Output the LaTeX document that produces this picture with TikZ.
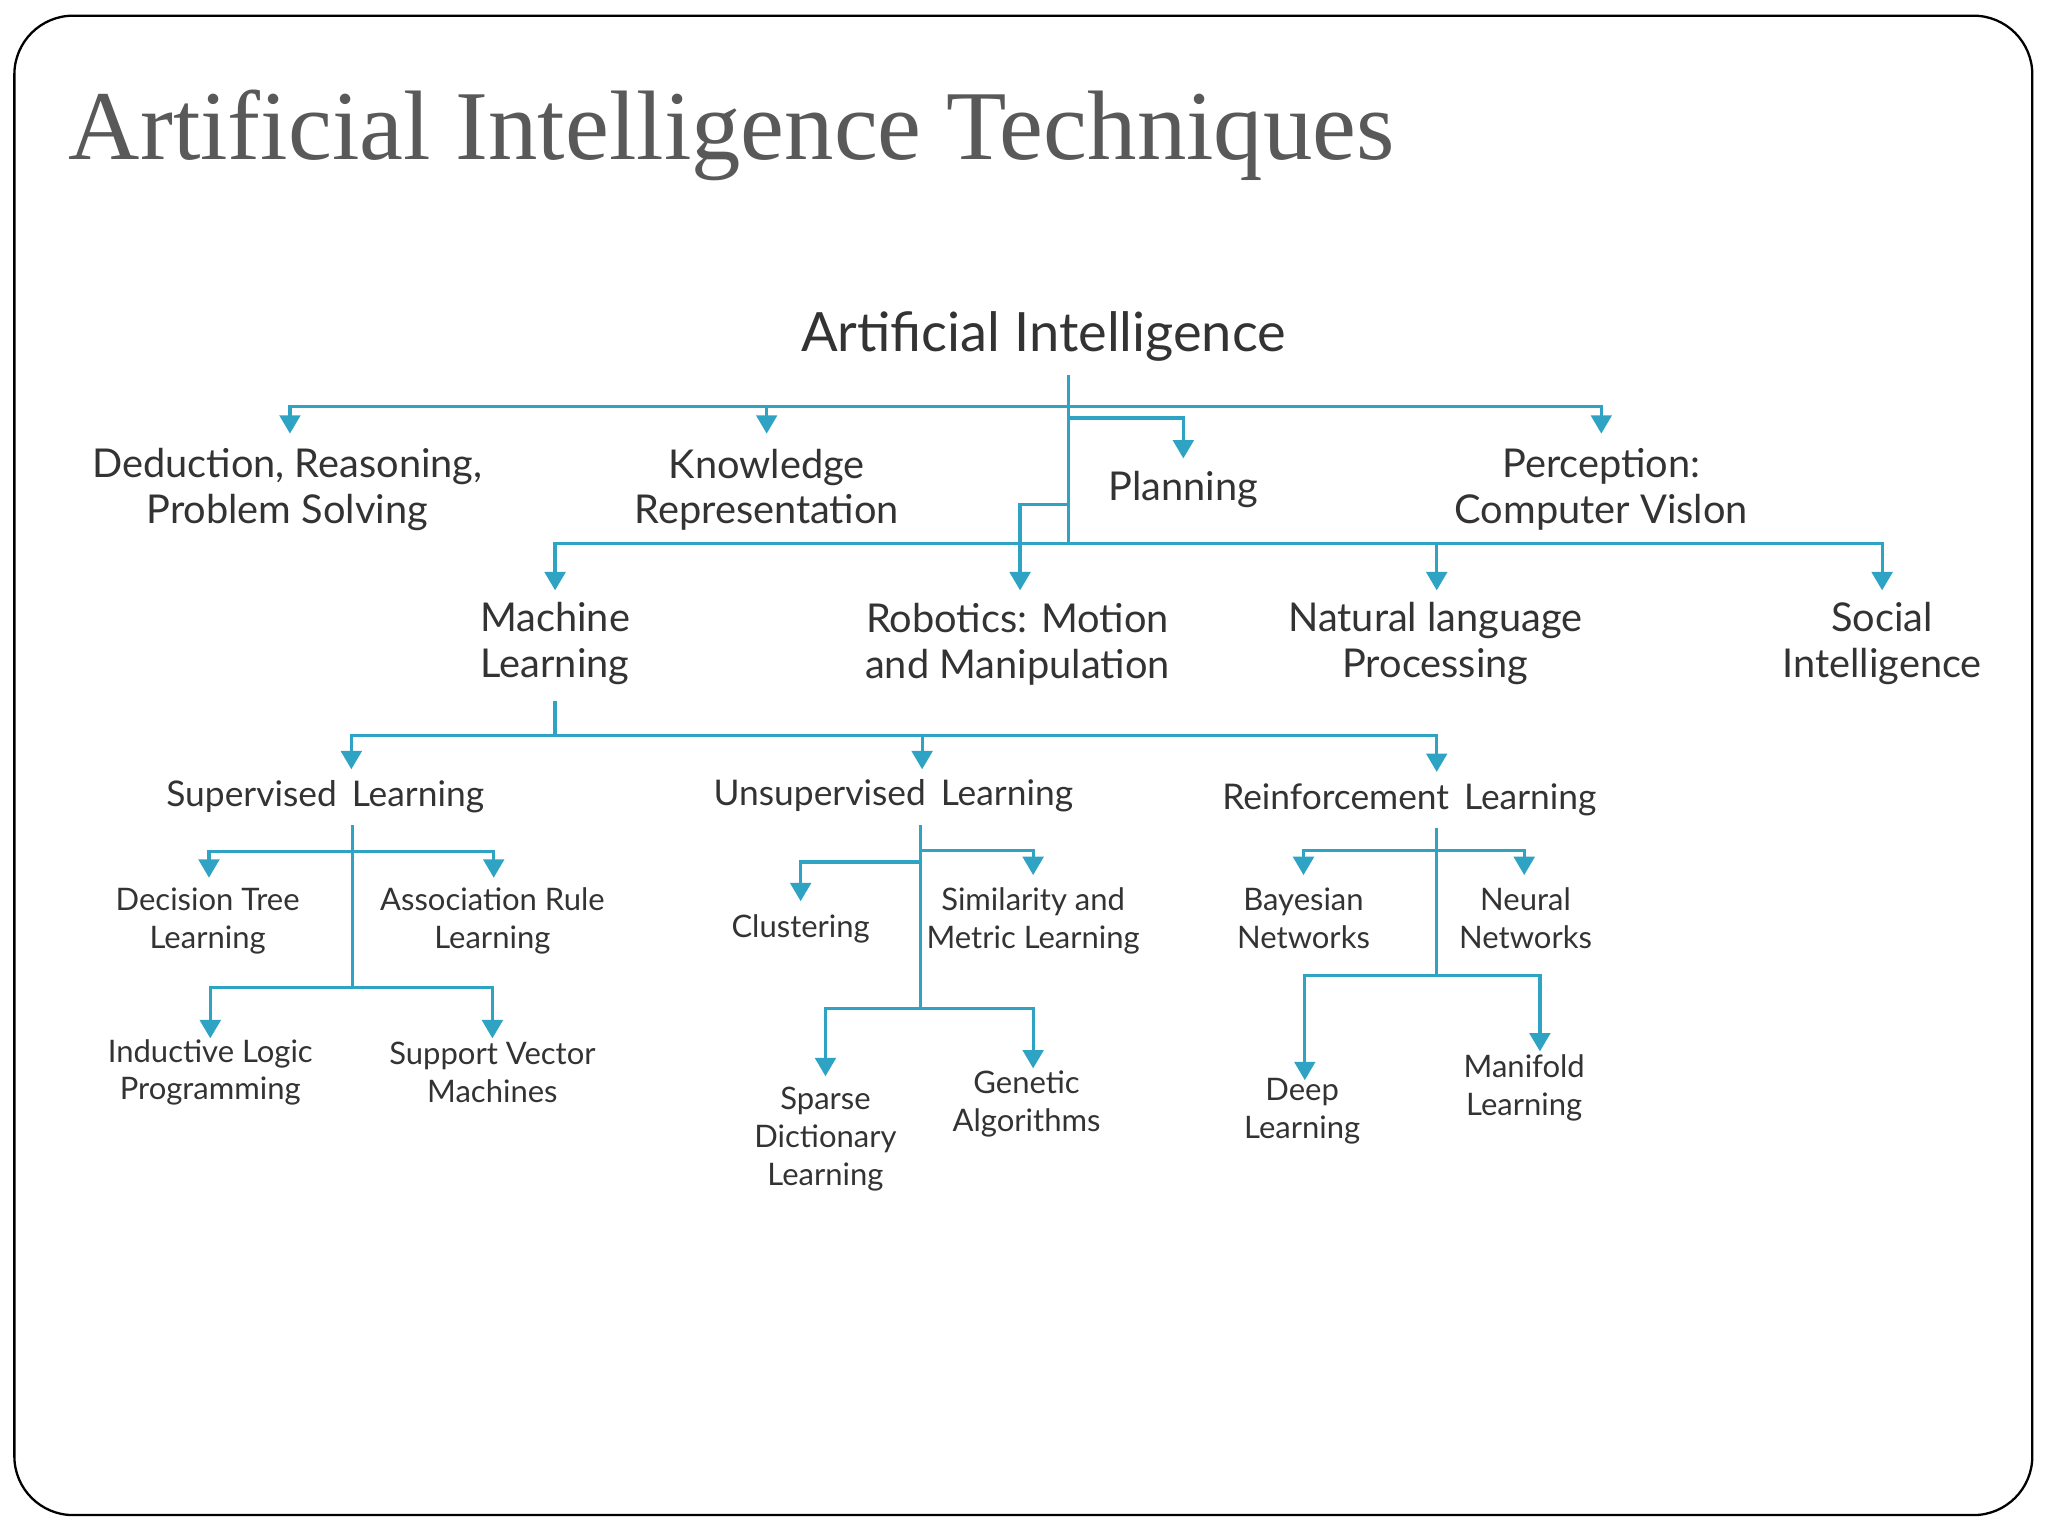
\documentclass[tikz,border=0pt]{standalone}
\usepackage{fontspec}
\setmainfont{Lato}
\newfontfamily\titlefont{Liberation Serif}
\usetikzlibrary{arrows.meta}
\definecolor{ln}{HTML}{2FA3C4}
\definecolor{tg}{HTML}{595959}
\definecolor{tx}{HTML}{333333}
\tikzset{
 arr/.style={draw=ln,line width=0.7pt,-{Triangle[width=4.5pt,length=4pt]}},
 ln/.style={draw=ln,line width=0.7pt},
 big/.style={align=center,text=tx,inner sep=1pt,font=\fontsize{11.8}{13}\selectfont},
 lv1/.style={align=center,text=tx,inner sep=1pt,font=\fontsize{8.65}{10}\selectfont},
 lv2/.style={align=center,text=tx,inner sep=1pt,font=\fontsize{7.7}{9}\selectfont},
 lv3/.style={align=center,text=tx,inner sep=1pt,font=\fontsize{6.75}{8.2}\selectfont},
}
\begin{document}
\begin{tikzpicture}[x=0.01cm,y=-0.01cm]
\useasboundingbox (0,0) rectangle (1568,1176);
\draw[black,line width=0.5pt,rounded corners=0.45cm] (11,12) rectangle (1556,1160);
\node[anchor=base west,text=tg,inner sep=0,font=\titlefont\fontsize{21.5}{24}\selectfont] (title) at (52,122) {Artificial Intelligence Techniques};

\node[big] (ai) at (799,258) {Artificial Intelligence};
\node[lv1] (ded) at (220,375) {Deduction, Reasoning,\\Problem Solving};
\node[lv1] (kr) at (587,375) {Knowledge\\Representation};
\node[lv1] (pl) at (906,375) {Planning};
\node[lv1] (pc) at (1226,375) {Perception:\\Computer Vislon};
\node[lv1] (ml) at (425,493) {Machine\\Learning};
\node[lv1] (rb) at (779,493) {Robotics: Motion\\and Manipulation};
\node[lv1] (nlp) at (1099,493) {Natural language\\Processing};
\node[lv1] (si) at (1441,493) {Social\\Intelligence};
\node[lv2] (sl) at (249,610) {Supervised\, Learning};
\node[lv2] (ul) at (684,609) {Unsupervised\, Learning};
\node[lv2] (rl) at (1079,612) {Reinforcement\, Learning};
\node[lv3] (dt) at (159,705) {Decision Tree\\Learning};
\node[lv3] (ar) at (377,705) {Association Rule\\Learning};
\node[lv3] (il) at (161,821) {Inductive Logic\\Programming};
\node[lv3] (sv) at (377,821) {Support Vector\\Machines};
\node[lv3] (cl) at (613,711) {Clustering};
\node[lv3] (sm) at (791,705) {Similarity and\\Metric Learning};
\node[lv3] (sd) at (632,872) {Sparse\\Dictionary\\Learning};
\node[lv3] (ga) at (786,845) {Genetic\\Algorithms};
\node[lv3] (bn) at (998,703) {Bayesian\\Networks};
\node[lv3] (nn) at (1168,703) {Neural\\Networks};
\node[lv3] (dl) at (997,851) {Deep\\Learning};
\node[lv3] (mf) at (1167,833) {Manifold\\Learning};

% level 1
\coordinate (a0) at (818,287);
\coordinate (a1) at (818,311);
\coordinate (a2) at (818,320);
\coordinate (a3) at (818,386);
\coordinate (a4) at (818,416);
\draw[ln] (a0) -- (a4);
\draw[arr] (a1) -- (222,311) -- (222,332);
\draw[arr] (587,311) -- (587,332);
\draw[arr] (a1) -- (1226,311) -- (1226,332);
\draw[arr] (a2) -- (906,320) -- (906,351);
\draw[arr] (a3) -- (781,386) -- (781,452);
\draw[arr] (a4) -- (425,416) -- (425,452);
\draw[arr] (a4) -- (1441,416) -- (1441,452);
\draw[arr] (1100,416) -- (1100,452);
% ML
\coordinate (m0) at (425,537);
\coordinate (m1) at (425,563);
\draw[ln] (m0) -- (m1);
\draw[arr] (m1) -- (269,563) -- (269,589);
\draw[arr] (m1) -- (1100,563) -- (1100,591);
\draw[arr] (706,563) -- (706,589);
% supervised
\coordinate (s0) at (270,632);
\coordinate (s1) at (270,652);
\coordinate (s2) at (270,756);
\draw[ln] (s0) -- (s2);
\draw[arr] (s1) -- (160,652) -- (160,672);
\draw[arr] (s1) -- (378,652) -- (378,672);
\draw[arr] (s2) -- (161,756) -- (161,795);
\draw[arr] (s2) -- (377,756) -- (377,795);
% unsupervised
\coordinate (u0) at (705,632);
\coordinate (u1) at (705,660);
\coordinate (u2) at (705,651);
\coordinate (u3) at (705,772);
\draw[ln] (u0) -- (u3);
\draw[arr] (u1) -- (613,660) -- (613,690);
\draw[arr] (u2) -- (791,651) -- (791,670);
\draw[arr] (u3) -- (632,772) -- (632,824);
\draw[arr] (u3) -- (791,772) -- (791,818);
% reinforcement
\coordinate (r0) at (1100,634);
\coordinate (r1) at (1100,651);
\coordinate (r2) at (1100,747);
\draw[ln] (r0) -- (r2);
\draw[arr] (r1) -- (998,651) -- (998,670);
\draw[arr] (r1) -- (1167,651) -- (1167,670);
\draw[arr] (r2) -- (999,747) -- (999,827);
\draw[arr] (r2) -- (1179,747) -- (1179,805);
\end{tikzpicture}
\end{document}
